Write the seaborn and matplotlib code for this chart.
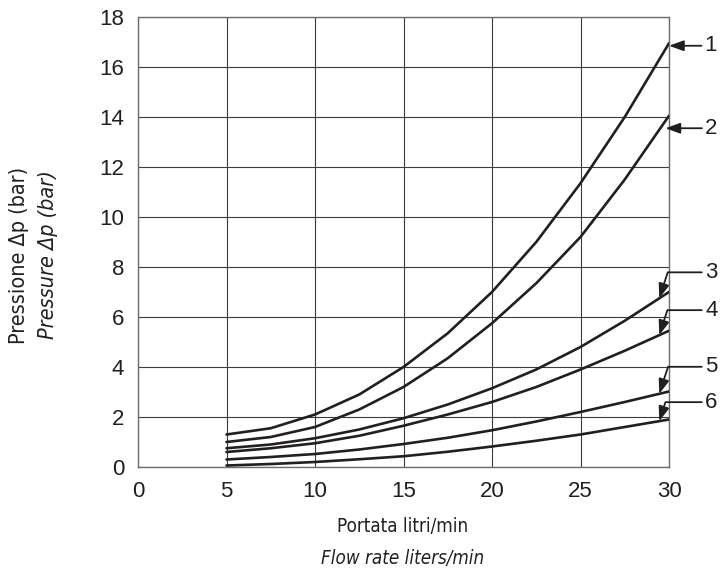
import numpy as np
import pandas as pd
import matplotlib
matplotlib.use('Agg')
import matplotlib.pyplot as plt
from matplotlib import font_manager as fm
import seaborn as sns

# values
flow = [5, 7.5, 10, 12.5, 15, 17.5, 20, 22.5, 25, 27.5, 30]
curve_1 = [1.3, 1.55, 2.1, 2.9, 4.0, 5.35, 7.0, 9.0, 11.35, 14.0, 16.95]
curve_2 = [1.0, 1.2, 1.6, 2.3, 3.2, 4.35, 5.75, 7.35, 9.2, 11.5, 14.05]
curve_3 = [0.75, 0.9, 1.15, 1.5, 1.95, 2.5, 3.15, 3.9, 4.8, 5.85, 7.0]
curve_4 = [0.6, 0.75, 0.95, 1.25, 1.65, 2.1, 2.6, 3.2, 3.9, 4.65, 5.45]
curve_5 = [0.3, 0.4, 0.52, 0.7, 0.92, 1.17, 1.47, 1.82, 2.2, 2.6, 3.02]
curve_6 = [0.06, 0.12, 0.2, 0.31, 0.43, 0.61, 0.82, 1.05, 1.3, 1.6, 1.9]
curve_names = ['1', '2', '3', '4', '5', '6']
x_ticks = [0, 5, 10, 15, 20, 25, 30]
y_ticks = [0, 2, 4, 6, 8, 10, 12, 14, 16, 18]

curves = [curve_1, curve_2, curve_3, curve_4, curve_5, curve_6]
df = pd.DataFrame({
    'flow': flow * len(curves),
    'dp': sum(curves, []),
    'curve': np.repeat(curve_names, len(flow)),
})

ink = '#231f20'

sns.set_style('white')
plt.rcParams['font.family'] = ['Liberation Sans', 'DejaVu Sans']

# condensed face for the axis titles, if one is installed
names = {f.name for f in fm.fontManager.ttflist}
if 'Liberation Sans Narrow' in names:
    lab_font = dict(family='Liberation Sans Narrow')
    xsize, ysize = 16.5, 18
elif 'DejaVu Sans Condensed' in names:
    lab_font = dict(family='DejaVu Sans Condensed')
    xsize, ysize = 13.5, 15.5
else:
    lab_font = dict(family='DejaVu Sans', fontstretch='condensed')
    xsize, ysize = 13.5, 15.5

fig = plt.figure(figsize=(7.21, 5.73), dpi=100)
ax = fig.add_axes([138 / 721, 1 - 467 / 573, 531 / 721, 450 / 573])

sns.lineplot(data=df, x='flow', y='dp', hue='curve', units='curve', estimator=None,
             palette={c: ink for c in curve_names}, linewidth=1.9, legend=False,
             sort=False, ax=ax, zorder=3)

ax.set_xlim(0, 30)
ax.set_ylim(0, 18)
ax.set_xticks(x_ticks)
ax.set_yticks(y_ticks)
ax.grid(True, color='#3c3c3c', linewidth=0.8)
ax.set_axisbelow(True)
ax.tick_params(length=0, pad=10, labelsize=16, labelcolor=ink)
for s in ax.spines.values():
    s.set_visible(True)
    s.set_color('#6d6e71')
    s.set_linewidth(1.0)
ax.set_xlabel('')
ax.set_ylabel('')

arrow = dict(arrowstyle='-|>,head_length=0.55,head_width=0.2', color=ink, lw=1.3,
             shrinkA=0, shrinkB=0, mutation_scale=16)

# straight leaders for curves 1 and 2
ax.annotate('1', xy=(30, curve_1[-1] - 0.1), xytext=(42, 0), textcoords='offset pixels',
            ha='center', va='center', fontsize=16, color=ink, arrowprops=arrow,
            annotation_clip=False)
ax.annotate('2', xy=(29.8, 13.55), xytext=(46, 0), textcoords='offset pixels',
            ha='center', va='center', fontsize=16, color=ink, arrowprops=arrow,
            annotation_clip=False)

# bent leaders for curves 3 to 6
bent = dict(arrow, connectionstyle='angle,angleA=0,angleB=72,rad=0')
for name, vals, dy in zip(curve_names[2:], curves[2:], [26, 25, 27, 19]):
    ax.annotate(name, xy=(29.45, np.interp(29.45, flow, vals)), xytext=(52, dy),
                textcoords='offset pixels', ha='center', va='center', fontsize=16,
                color=ink, arrowprops=bent, annotation_clip=False)

# two-language axis titles
fig.text(403 / 721, 1 - 527 / 573, 'Portata litri/min', ha='center', va='center',
         color=ink, fontsize=xsize, **lab_font)
fig.text(403 / 721, 1 - 559 / 573, 'Flow rate liters/min', ha='center', va='center',
         color=ink, style='italic', fontsize=xsize, **lab_font)
fig.text(19 / 721, 0.555, 'Pressione Δp (bar)', rotation=90, ha='center', va='center',
         color=ink, fontsize=ysize, **lab_font)
fig.text(48 / 721, 0.555, 'Pressure Δp (bar)', rotation=90, ha='center', va='center',
         color=ink, style='italic', fontsize=ysize, **lab_font)

fig.savefig('out.png', dpi=100)
